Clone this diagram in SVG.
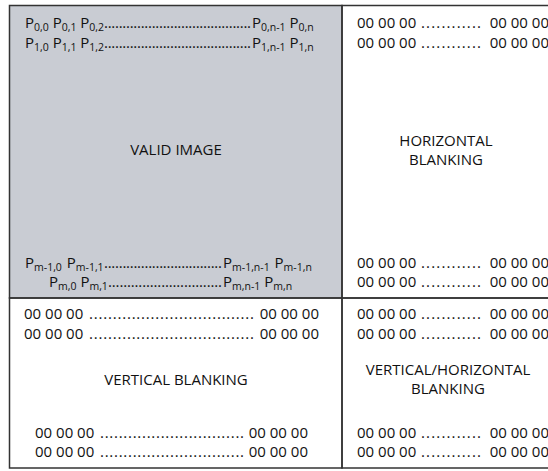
<svg xmlns="http://www.w3.org/2000/svg" width="548" height="471" viewBox="0 0 548 471">
<style>
.t{font-family:"Open Sans","Noto Sans","Liberation Sans",sans-serif;font-size:15px;fill:#111}
.s{font-size:10.5px}
.c{text-anchor:middle}
.e{text-anchor:end}
.b{fill:none;stroke:#333;stroke-width:1.5}
</style>
<rect width="548" height="471" fill="#fff"/>
<g id="valid-image">
<rect x="9.5" y="5.5" width="332.5" height="292.5" fill="#c9ccd3" stroke="#333" stroke-width="1.5"/>
<text class="t" x="25" y="28">P<tspan class="s" dy="3">0,0</tspan><tspan dy="-3"> P</tspan><tspan class="s" dy="3">0,1</tspan><tspan dy="-3"> P</tspan><tspan class="s" dy="3">0,2</tspan><tspan x="104" dy="-3" textLength="147" lengthAdjust="spacing">........................................</tspan><tspan x="252">P</tspan><tspan class="s" dy="3">0,n-1</tspan><tspan dy="-3"> P</tspan><tspan class="s" dy="3">0,n</tspan></text>
<text class="t" x="25" y="48">P<tspan class="s" dy="3">1,0</tspan><tspan dy="-3"> P</tspan><tspan class="s" dy="3">1,1</tspan><tspan dy="-3"> P</tspan><tspan class="s" dy="3">1,2</tspan><tspan x="104" dy="-3" textLength="147" lengthAdjust="spacing">........................................</tspan><tspan x="252">P</tspan><tspan class="s" dy="3">1,n-1</tspan><tspan dy="-3"> P</tspan><tspan class="s" dy="3">1,n</tspan></text>
<text class="t c" x="176" y="155">VALID IMAGE</text>
<text class="t" x="25" y="268">P<tspan class="s" dy="3">m-1,0</tspan><tspan dx="1" dy="-3"> P</tspan><tspan class="s" dy="3">m-1,1</tspan><tspan x="104" dy="-3" textLength="118" lengthAdjust="spacing">................................</tspan><tspan x="223">P</tspan><tspan class="s" dy="3">m-1,n-1</tspan><tspan dx="1" dy="-3"> P</tspan><tspan class="s" dy="3">m-1,n</tspan></text>
<text class="t" x="49" y="287">P<tspan class="s" dy="3">m,0</tspan><tspan dy="-3"> P</tspan><tspan class="s" dy="3">m,1</tspan><tspan x="108" dy="-3" textLength="114" lengthAdjust="spacing">..............................</tspan><tspan x="223">P</tspan><tspan class="s" dy="3">m,n-1</tspan><tspan dy="-3"> P</tspan><tspan class="s" dy="3">m,n</tspan></text>
</g>
<g id="horizontal-blanking">
<rect x="342" y="5.5" width="220" height="292.5" class="b"/>
<text class="t" x="357" y="28">00 00 00 <tspan x="421" textLength="60" lengthAdjust="spacing">............</tspan></text><text class="t e" x="549" y="28">00 00 00</text>
<text class="t" x="357" y="48">00 00 00 <tspan x="421" textLength="60" lengthAdjust="spacing">............</tspan></text><text class="t e" x="549" y="48">00 00 00</text>
<text class="t c" x="446" y="146">HORIZONTAL</text>
<text class="t c" x="446" y="165">BLANKING</text>
<text class="t" x="357" y="268">00 00 00 <tspan x="421" textLength="60" lengthAdjust="spacing">............</tspan></text><text class="t e" x="549" y="268">00 00 00</text>
<text class="t" x="357" y="287">00 00 00 <tspan x="421" textLength="60" lengthAdjust="spacing">............</tspan></text><text class="t e" x="549" y="287">00 00 00</text>
</g>
<g id="vertical-blanking">
<rect x="9.5" y="298" width="332.5" height="170" class="b"/>
<text class="t" x="24" y="319">00 00 00 <tspan x="89" textLength="165" lengthAdjust="spacing">...................................</tspan></text><text class="t e" x="319" y="319">00 00 00</text>
<text class="t" x="24" y="339">00 00 00 <tspan x="89" textLength="165" lengthAdjust="spacing">...................................</tspan></text><text class="t e" x="319" y="339">00 00 00</text>
<text class="t c" x="176" y="385">VERTICAL BLANKING</text>
<text class="t" x="35" y="438">00 00 00 <tspan x="100" textLength="144" lengthAdjust="spacing">...............................</tspan></text><text class="t e" x="308" y="438">00 00 00</text>
<text class="t" x="35" y="457">00 00 00 <tspan x="100" textLength="144" lengthAdjust="spacing">...............................</tspan></text><text class="t e" x="308" y="457">00 00 00</text>
</g>
<g id="vertical-horizontal-blanking">
<rect x="342" y="298" width="220" height="170" class="b"/>
<text class="t" x="357" y="319">00 00 00 <tspan x="421" textLength="60" lengthAdjust="spacing">............</tspan></text><text class="t e" x="549" y="319">00 00 00</text>
<text class="t" x="357" y="339">00 00 00 <tspan x="421" textLength="60" lengthAdjust="spacing">............</tspan></text><text class="t e" x="549" y="339">00 00 00</text>
<text class="t c" x="448" y="375">VERTICAL/HORIZONTAL</text>
<text class="t c" x="448" y="394">BLANKING</text>
<text class="t" x="357" y="438">00 00 00 <tspan x="421" textLength="60" lengthAdjust="spacing">............</tspan></text><text class="t e" x="549" y="438">00 00 00</text>
<text class="t" x="357" y="457">00 00 00 <tspan x="421" textLength="60" lengthAdjust="spacing">............</tspan></text><text class="t e" x="549" y="457">00 00 00</text>
</g>
<g id="connectors"/>
</svg>
